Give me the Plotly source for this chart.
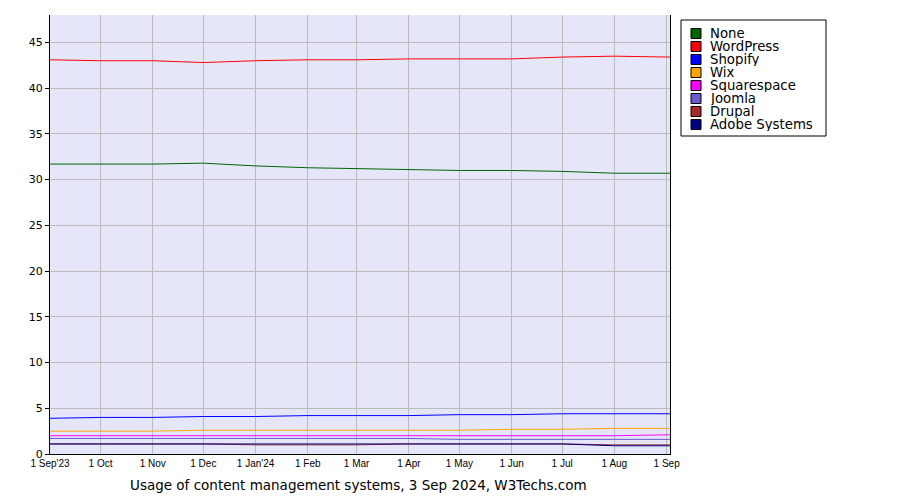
import plotly.graph_objects as go

# monthly samples, last point is the report date
dates = [
    "2023-09-01", "2023-10-01", "2023-11-01", "2023-12-01", "2024-01-01",
    "2024-02-01", "2024-03-01", "2024-04-01", "2024-05-01", "2024-06-01",
    "2024-07-01", "2024-08-01", "2024-09-03",
]

tick_dates = [
    "2023-09-01", "2023-10-01", "2023-11-01", "2023-12-01", "2024-01-01",
    "2024-02-01", "2024-03-01", "2024-04-01", "2024-05-01", "2024-06-01",
    "2024-07-01", "2024-08-01", "2024-09-01",
]
tick_labels = [
    "1 Sep'23", "1 Oct", "1 Nov", "1 Dec", "1 Jan'24", "1 Feb", "1 Mar",
    "1 Apr", "1 May", "1 Jun", "1 Jul", "1 Aug", "1 Sep",
]

none_pct = [31.7, 31.7, 31.7, 31.8, 31.5, 31.3, 31.2, 31.1, 31.0, 31.0, 30.9, 30.7, 30.7]
wordpress = [43.1, 43.0, 43.0, 42.8, 43.0, 43.1, 43.1, 43.2, 43.2, 43.2, 43.4, 43.5, 43.4]
shopify = [3.9, 4.0, 4.0, 4.1, 4.1, 4.2, 4.2, 4.2, 4.3, 4.3, 4.4, 4.4, 4.4]
wix = [2.5, 2.5, 2.5, 2.6, 2.6, 2.6, 2.6, 2.6, 2.6, 2.7, 2.7, 2.8, 2.8]
squarespace = [2.0, 2.0, 2.0, 2.0, 2.0, 2.0, 2.0, 2.0, 2.0, 2.0, 2.0, 2.0, 2.1]
joomla = [1.7, 1.7, 1.7, 1.7, 1.7, 1.7, 1.7, 1.7, 1.6, 1.6, 1.6, 1.6, 1.6]
drupal = [1.1, 1.1, 1.1, 1.1, 1.0, 1.0, 1.0, 1.1, 1.1, 1.1, 1.1, 1.0, 1.0]
adobe = [1.1, 1.1, 1.1, 1.1, 1.1, 1.1, 1.1, 1.1, 1.1, 1.1, 1.1, 0.9, 0.9]

series = [
    ("None", none_pct, "#006400"),
    ("WordPress", wordpress, "#FF0000"),
    ("Shopify", shopify, "#0000FF"),
    ("Wix", wix, "#FFA500"),
    ("Squarespace", squarespace, "#FF00FF"),
    ("Joomla", joomla, "#6A5ACD"),
    ("Drupal", drupal, "#A52A2A"),
    ("Adobe Systems", adobe, "#000080"),
]

# the page body adds an 8px margin, so build the figure a bit smaller
OFF = 8
W, H = 900 - OFF, 500 - OFF
L, R, T, B = 50 - OFF, 230, 15 - OFF, 46
PW, PH = W - L - R, H - T - B


def px2x(px):
    # screen pixel -> paper x
    return (px - OFF - L) / PW


def py2y(py):
    # screen pixel -> paper y
    return (H - B - (py - OFF)) / PH


fig = go.Figure()
for name, vals, color in series:
    fig.add_trace(go.Scatter(
        x=dates, y=vals, name=name, mode="lines",
        line=dict(color=color, width=1), showlegend=False,
    ))

# hand-made legend box (tighter rows than plotly's own legend)
shapes = [dict(
    type="rect", xref="paper", yref="paper",
    x0=px2x(681), x1=px2x(826), y0=py2y(136), y1=py2y(20),
    line=dict(color="black", width=1), fillcolor="white", layer="above",
)]
annotations = []
for i, (name, vals, color) in enumerate(series):
    cy = 33.5 + 13 * i
    shapes.append(dict(
        type="rect", xref="paper", yref="paper",
        x0=px2x(691), x1=px2x(701), y0=py2y(cy + 5), y1=py2y(cy - 5),
        line=dict(color="black", width=1), fillcolor=color, layer="above",
    ))
    annotations.append(dict(
        xref="paper", yref="paper", x=px2x(709), y=py2y(cy),
        text=name, showarrow=False, xanchor="left", yanchor="middle",
        height=13, borderpad=0,
        font=dict(family="DejaVu Sans", size=13.3, color="black"),
    ))

annotations.append(dict(
    xref="paper", yref="paper", x=px2x(358), y=py2y(485),
    text="Usage of content management systems, 3 Sep 2024, W3Techs.com",
    showarrow=False, xanchor="center", yanchor="middle",
    font=dict(family="DejaVu Sans", size=13.5, color="black"),
))

fig.update_layout(
    width=W, height=H,
    margin=dict(l=L, r=R, t=T, b=B, autoexpand=False),
    paper_bgcolor="white",
    plot_bgcolor="#E6E6FA",
    shapes=shapes,
    annotations=annotations,
    showlegend=False,
    xaxis=dict(
        type="date",
        range=["2023-09-01", "2024-09-03"],
        tickmode="array", tickvals=tick_dates, ticktext=tick_labels,
        showgrid=True, gridcolor="#BBBBBB", gridwidth=1,
        showline=True, linecolor="black", linewidth=1,
        ticks="", zeroline=False, automargin=False,
        tickfont=dict(family="Liberation Sans", size=10, color="black"),
    ),
    yaxis=dict(
        range=[0, 48],
        tickmode="array", tickvals=list(range(0, 50, 5)),
        showgrid=True, gridcolor="#BBBBBB", gridwidth=1,
        showline=True, linecolor="black", linewidth=1, mirror=True,
        ticks="outside", ticklen=4, tickcolor="black",
        zeroline=False, automargin=False,
        tickfont=dict(family="DejaVu Sans", size=11, color="black"),
    ),
)

fig.write_html("out.html")
